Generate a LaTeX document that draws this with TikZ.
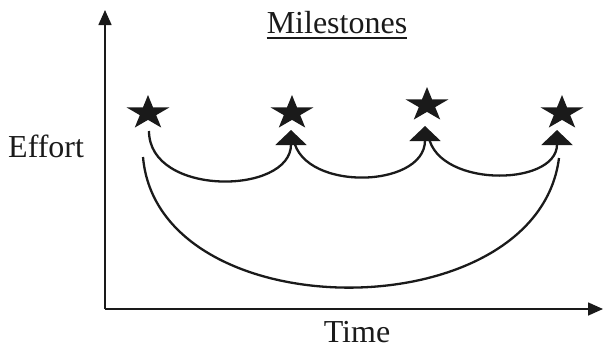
\documentclass[tikz,border=0pt]{standalone}
\usepackage{fontspec}
\setmainfont{Liberation Serif}
\usetikzlibrary{arrows.meta,shapes.geometric}
\definecolor{ink}{HTML}{1A1A1A}
\begin{document}
\begin{tikzpicture}[x=1pt,y=-1pt,
  axis/.style={draw=ink, line width=1.6pt, -{Triangle[width=13pt,length=15pt]}},
  arcline/.style={draw=ink, line width=2.3pt},
  arcarrow/.style={arcline, -{Triangle[width=31pt,length=15pt]}},
  mstar/.style={star, star points=5, star point ratio=2.618, fill=ink, draw=none,
    minimum size=45pt, inner sep=0pt, yscale=0.8},
  lbl/.style={font=\fontsize{32}{38}\selectfont, inner sep=0pt, text=ink}]
\useasboundingbox (0,0) rectangle (604,351);
% axes
\coordinate (o) at (105,309);
\coordinate (ytop) at (105,10);
\coordinate (xend) at (603,309);
\draw[axis] (o) -- (ytop);
\draw[axis] (o) -- (xend);
% milestones
\node[mstar] (s1) at (148,113) {};
\node[mstar] (s2) at (292,113) {};
\node[mstar] (s3) at (427,105) {};
\node[mstar] (s4) at (562,113) {};
% arc end points
\coordinate (a1) at (149,131);
\coordinate (t2) at (291,130);
\coordinate (a2) at (293,134);
\coordinate (t3) at (425,126);
\coordinate (a3) at (428,131);
\coordinate (t4) at (557,130);
\coordinate (l1) at (143,157);
\coordinate (l2) at (559,158);
\draw[arcarrow] (a1) .. controls (149,197) and (291,195) .. (t2);
\draw[arcarrow] (a2) .. controls (295,192) and (425,190) .. (t3);
\draw[arcarrow] (a3) .. controls (430,188) and (557,188) .. (t4);
\draw[arcline] (l1) .. controls (158,331) and (537,331) .. (l2);
% labels
\node[lbl, anchor=base west] (eff) at (8,157) {Effort};
\node[lbl, anchor=base] (ms) at (337,33) {Milestones};
\draw[draw=ink, line width=1.3pt] ([yshift=-5pt]ms.base west) -- ([yshift=-5pt]ms.base east);
\node[lbl, anchor=base] (tm) at (357,342) {Time};
\end{tikzpicture}
\end{document}
